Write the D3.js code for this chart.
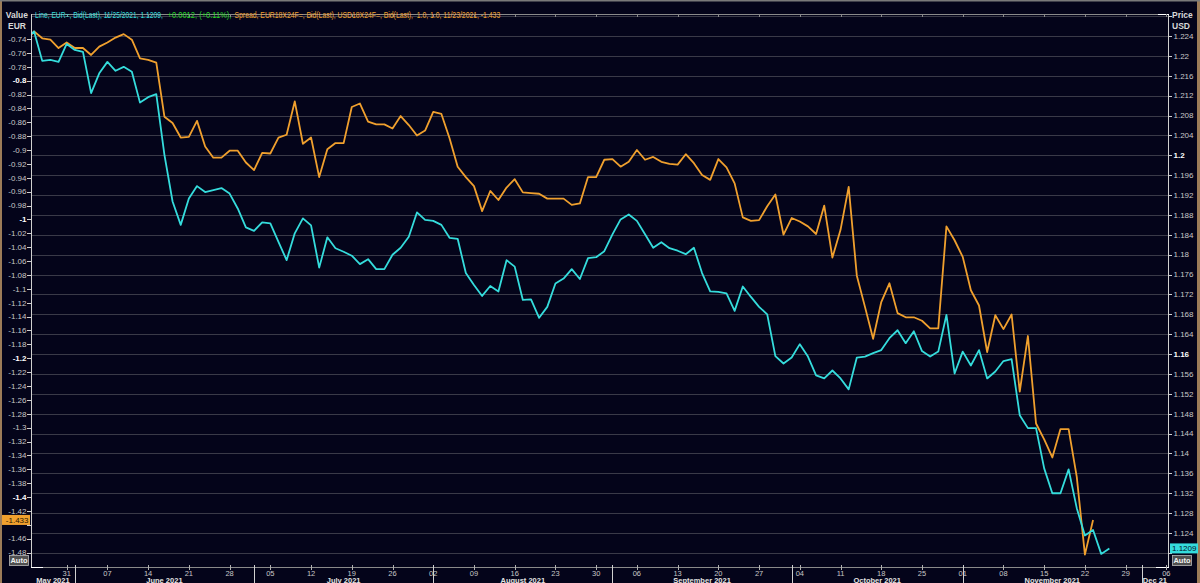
<!DOCTYPE html>
<html><head><meta charset="utf-8">
<script src="https://cdn.jsdelivr.net/npm/d3@7"></script>
<style>
html,body{margin:0;padding:0;background:#04041a;}
svg{display:block;}
text{font-family:"Liberation Sans",Arial,sans-serif;}
</style></head><body>
<svg id="chart" width="1200" height="583"></svg>
<script>
// ---- data (one value per weekday starting Mon 24 May 2021) ----
const firstDate = "2021-05-24";
const eurusd = [
 1.2235, 1.2249, 1.2190, 1.2192, 1.2188,
 1.2224, 1.2212, 1.2208, 1.2125, 1.2165, 1.2188, 1.2170, 1.2178, 1.2168, 1.2106,
 1.2117, 1.2123, 1.2001, 1.1907, 1.1860, 1.1913, 1.1938, 1.1926, 1.1930, 1.1934,
 1.1923, 1.1893, 1.1855, 1.1848, 1.1865, 1.1863, 1.1826, 1.1789, 1.1843, 1.1873,
 1.1859, 1.1774, 1.1835, 1.1813, 1.1806, 1.1798, 1.1781, 1.1791, 1.1771, 1.1771,
 1.1800, 1.1814, 1.1836, 1.1885, 1.1870, 1.1868, 1.1860, 1.1834, 1.1832, 1.1763,
 1.1739, 1.1717, 1.1737, 1.1726, 1.1789, 1.1776, 1.1709, 1.1710, 1.1673, 1.1695,
 1.1742, 1.1752, 1.1771, 1.1751, 1.1793, 1.1795, 1.1807, 1.1841, 1.1871, 1.1881,
 1.1868, 1.1841, 1.1814, 1.1825, 1.1813, 1.1808, 1.1801, 1.1814, 1.1763, 1.1726,
 1.1725, 1.1722, 1.1687, 1.1736, 1.1715, 1.1695, 1.1680, 1.1596, 1.1581, 1.1593,
 1.1620, 1.1595, 1.1557, 1.1551, 1.1567, 1.1551, 1.1529, 1.1593, 1.1595, 1.1602,
 1.1608, 1.1632, 1.1648, 1.1622, 1.1646, 1.1606, 1.1595, 1.1605, 1.1679, 1.1561,
 1.1605, 1.1577, 1.1608, 1.1551, 1.1565, 1.1586, 1.1590, 1.1477, 1.1451, 1.1451,
 1.1370, 1.1320, 1.1320, 1.1368, 1.1290, 1.1235, 1.1246, 1.1198, 1.1209
];
const spread = [
 -0.743, -0.729, -0.739, -0.741, -0.753,
 -0.745, -0.753, -0.753, -0.763, -0.751, -0.745, -0.738, -0.733, -0.741, -0.768,
 -0.770, -0.774, -0.852, -0.861, -0.882, -0.881, -0.858, -0.895, -0.911, -0.911,
 -0.901, -0.901, -0.918, -0.929, -0.904, -0.905, -0.882, -0.878, -0.830, -0.891,
 -0.882, -0.939, -0.899, -0.890, -0.890, -0.838, -0.833, -0.859, -0.863, -0.863,
 -0.869, -0.851, -0.864, -0.879, -0.872, -0.845, -0.848, -0.883, -0.924, -0.939,
 -0.952, -0.988, -0.959, -0.972, -0.954, -0.942, -0.961, -0.962, -0.963, -0.970,
 -0.970, -0.970, -0.979, -0.977, -0.939, -0.939, -0.914, -0.913, -0.924, -0.917,
 -0.900, -0.914, -0.910, -0.917, -0.920, -0.921, -0.906, -0.919, -0.936, -0.943,
 -0.913, -0.925, -0.948, -0.997, -1.002, -1.001, -0.981, -0.964, -1.022, -0.998,
 -1.003, -1.010, -1.021, -0.980, -1.055, -1.015, -0.953, -1.081, -1.126, -1.172,
 -1.119, -1.092, -1.135, -1.141, -1.141, -1.146, -1.157, -1.157, -1.010, -1.030,
 -1.054, -1.102, -1.124, -1.191, -1.138, -1.158, -1.137, -1.248, -1.168, -1.294,
 -1.317, -1.343, -1.302, -1.302, -1.371, -1.483, -1.433
];
const leftTickLabels = ["-0.74","-0.76","-0.78","-0.8","-0.82","-0.84","-0.86","-0.88","-0.9","-0.92",
 "-0.94","-0.96","-0.98","-1","-1.02","-1.04","-1.06","-1.08","-1.1","-1.12","-1.14","-1.16","-1.18",
 "-1.2","-1.22","-1.24","-1.26","-1.28","-1.3","-1.32","-1.34","-1.36","-1.38","-1.4","-1.42","-1.44",
 "-1.46","-1.48"];
const rightTickLabels = ["1.228","1.224","1.22","1.216","1.212","1.208","1.204","1.2","1.196","1.192","1.188",
 "1.184","1.18","1.176","1.172","1.168","1.164","1.16","1.156","1.152","1.148","1.144","1.14",
 "1.136","1.132","1.128","1.124","1.12"];
const monthLabels = ["May 2021","June 2021","July 2021","August 2021","September 2021","October 2021","November 2021","Dec 21"];
const legendCyan = "Line, EUR=, Bid(Last), 11/25/2021, 1.1209,";
const legendGreen = "+0.0012, (+0.11%),";
const legendOrange = "Spread, EUR18X24F=, Bid(Last), USD18X24F=, Bid(Last),  1.0, 1.0, 11/23/2021, -1.433";
const lastEur = "1.1209", lastSpread = "-1.433";

// ---- layout ----
const W = 1200, H = 583;
const L = 31, R = 1168, T = 14, B = 567;
const C = {bg:"#04041a", grid:"#3a3a48", axis:"#d0d0d0", tick:"#c8c8c8",
           orange:"#f0a02e", cyan:"#35dcdc", green:"#22d822"};

// weekday calendar
const days = [];
{
  const d = new Date(firstDate + "T00:00:00");
  while (days.length < 142) {
    if (d.getDay() !== 0 && d.getDay() !== 6) days.push(new Date(d));
    d.setDate(d.getDate() + 1);
  }
}

const x = d3.scaleLinear().domain([0.62, 140.2]).range([L, R]);
const yL = d3.scaleLinear().domain([-1.5008, -0.704]).range([B, T]);
const yR = d3.scaleLinear().domain([1.11716, 1.22843]).range([B, T]);

const svg = d3.select("#chart");
svg.append("rect").attr("width", W).attr("height", H).attr("fill", C.bg);
// outer frame
svg.append("rect").attr("x",0).attr("y",0).attr("width",2).attr("height",H).attr("fill","#9c7c58");
svg.append("rect").attr("x",W-3).attr("y",0).attr("width",3).attr("height",H).attr("fill","#9c7c58");
svg.append("rect").attr("x",0).attr("y",0).attr("width",W).attr("height",1.5).attr("fill","#7a7a7a");

// gridlines (at right axis ticks)
svg.append("g").selectAll("line").data(rightTickLabels).join("line")
  .attr("x1", L).attr("x2", R)
  .attr("y1", d => Math.round(yR(+d)) + 0.5).attr("y2", d => Math.round(yR(+d)) + 0.5)
  .attr("stroke", C.grid).attr("stroke-width", 1);

// clip
svg.append("clipPath").attr("id","clip").append("rect")
  .attr("x", L).attr("y", T).attr("width", R - L).attr("height", B - T);

const lineL = d3.line().x((d,i) => x(i)).y(d => yL(d));
const lineR = d3.line().x((d,i) => x(i)).y(d => yR(d));
const plot = svg.append("g").attr("clip-path","url(#clip)");
plot.append("path").datum(spread).attr("d", lineL)
  .attr("fill","none").attr("stroke", C.orange).attr("stroke-width", 1.8).attr("stroke-linejoin","round");
plot.append("path").datum(eurusd).attr("d", lineR)
  .attr("fill","none").attr("stroke", C.cyan).attr("stroke-width", 1.8).attr("stroke-linejoin","round");

// frame lines
svg.append("line").attr("x1",L).attr("x2",R).attr("y1",T+0.5).attr("y2",T+0.5).attr("stroke","#8a8a8a");
svg.append("line").attr("x1",L).attr("x2",R).attr("y1",B+0.5).attr("y2",B+0.5).attr("stroke","#8a8a8a");
svg.append("line").attr("x1",L+0.5).attr("x2",L+0.5).attr("y1",T).attr("y2",B+1).attr("stroke",C.axis);
svg.append("line").attr("x1",R+0.5).attr("x2",R+0.5).attr("y1",T).attr("y2",B+1).attr("stroke",C.axis);
svg.append("line").attr("x1",R-10).attr("x2",R+1).attr("y1",T+0.5).attr("y2",T+0.5).attr("stroke","#ffffff");
svg.append("line").attr("x1",L).attr("x2",L+12).attr("y1",B+0.5).attr("y2",B+0.5).attr("stroke","#ffffff");
svg.append("line").attr("x1",R-12).attr("x2",R+1).attr("y1",B+0.5).attr("y2",B+0.5).attr("stroke","#ffffff");

const lastL = spread[spread.length-1], lastR = eurusd[eurusd.length-1];

// left axis
const isBoldL = v => Math.abs(v*5 - Math.round(v*5)) < 1e-6;
const gl = svg.append("g");
gl.selectAll("line").data(leftTickLabels).join("line")
  .attr("x1", L-4).attr("x2", L)
  .attr("y1", d => Math.round(yL(+d))+0.5).attr("y2", d => Math.round(yL(+d))+0.5)
  .attr("stroke", C.axis);
gl.selectAll("text").data(leftTickLabels.filter(t => Math.abs(yL(+t) - yL(lastL)) > 8)).join("text")
  .attr("x", L-4.5).attr("y", d => yL(+d)).attr("dy","0.35em")
  .attr("text-anchor","end").attr("font-size", 8)
  .attr("font-weight", d => isBoldL(+d) ? "bold" : "normal")
  .attr("fill", d => isBoldL(+d) ? "#ffffff" : C.tick).text(d => d);

// right axis
const isBoldR = v => Math.abs(v*25 - Math.round(v*25)) < 1e-6;
const gr = svg.append("g");
gr.selectAll("line").data(rightTickLabels).join("line")
  .attr("x1", R).attr("x2", R+4)
  .attr("y1", d => Math.round(yR(+d))+0.5).attr("y2", d => Math.round(yR(+d))+0.5)
  .attr("stroke", C.axis);
gr.selectAll("text").data(rightTickLabels.filter(t => yR(+t) > 30 && Math.abs(yR(+t) - yR(lastR)) > 8)).join("text")
  .attr("x", R+5.5).attr("y", d => yR(+d)).attr("dy","0.35em")
  .attr("text-anchor","start").attr("font-size", 8)
  .attr("font-weight", d => isBoldR(+d) ? "bold" : "normal")
  .attr("fill", d => isBoldR(+d) ? "#ffffff" : C.tick).text(d => d);

// axis titles
const title = (tx, ty, s, anchor) => svg.append("text").attr("x",tx).attr("y",ty)
  .attr("font-size",8.5).attr("font-weight","bold").attr("fill","#d8d8d8")
  .attr("text-anchor",anchor).text(s);
title(28, 18, "Value", "end");
title(26, 29, "EUR", "end");
title(1172, 18, "Price", "start");
title(1172, 29, "USD", "start");

// x axis: weekly ticks (Mondays) and month separators
const idx = d3.range(days.length);
const inDom = i => x(i) >= L - 0.5 && x(i) <= R + 0.5;
const mondays = idx.filter(i => days[i].getDay() === 1 && inDom(i));
const fmtDay = d3.timeFormat("%d");
const gx = svg.append("g");
gx.selectAll("line.wk").data(mondays).join("line").attr("class","wk")
  .attr("x1", i => Math.round(x(i))+0.5).attr("x2", i => Math.round(x(i))+0.5)
  .attr("y1", B-2).attr("y2", B+3).attr("stroke", "#b0b0b0");
gx.selectAll("line.wkt").data(mondays).join("line").attr("class","wkt")
  .attr("x1", i => Math.round(x(i))+0.5).attr("x2", i => Math.round(x(i))+0.5)
  .attr("y1", T).attr("y2", T+3).attr("stroke", "#8a8a8a");
gx.selectAll("text.wk").data(mondays).join("text").attr("class","wk")
  .attr("x", i => x(i)).attr("y", B+8.5).attr("text-anchor","middle")
  .attr("font-size", 7.5).attr("fill", C.tick).text(i => fmtDay(days[i]));

const monthStarts = idx.filter(i => i > 0 && days[i].getMonth() !== days[i-1].getMonth() && x(i) <= R);
gx.selectAll("line.mo").data(monthStarts).join("line").attr("class","mo")
  .attr("x1", i => Math.round(x(i))+0.5).attr("x2", i => Math.round(x(i))+0.5)
  .attr("y1", B-2).attr("y2", H).attr("stroke", "#d0d0d0");
const bounds = [L, ...monthStarts.map(i => x(i)), R];
gx.selectAll("text.mo").data(monthLabels).join("text").attr("class","mo")
  .attr("x", (d,k) => (bounds[k] + bounds[k+1]) / 2).attr("y", B+15.5)
  .attr("text-anchor","middle").attr("font-size", 7.5).attr("font-weight","bold")
  .attr("fill", "#e4e4e4").text(d => d);

// last value boxes
svg.append("rect").attr("x",2).attr("y", yL(lastL)-5).attr("width",L-3).attr("height",10).attr("fill", C.orange);
svg.append("text").attr("x", L-2.5).attr("y", yL(lastL)).attr("dy","0.35em").attr("text-anchor","end")
  .attr("font-size",8).attr("fill","#2a1800").text(lastSpread);
svg.append("rect").attr("x",R+2).attr("y", yR(lastR)-5).attr("width",28).attr("height",10).attr("fill", C.cyan);
svg.append("text").attr("x", R+4).attr("y", yR(lastR)).attr("dy","0.35em").attr("text-anchor","start")
  .attr("font-size",8).attr("fill","#04102a").text(lastEur);

// Auto boxes
const auto = (ax, ay) => {
  svg.append("rect").attr("x",ax).attr("y",ay).attr("width",19).attr("height",10)
    .attr("fill","#505050").attr("stroke","#b8b8b8").attr("stroke-width",0.8);
  svg.append("text").attr("x",ax+9.5).attr("y",ay+7.6).attr("text-anchor","middle")
    .attr("font-size",7.5).attr("font-weight","bold").attr("fill","#f0f0f0").text("Auto");
};
auto(9.5, 555.5);
auto(1172.5, 555.5);

// legend: each segment scaled horizontally to the reference width
const leg = (tx, w, s, col) => {
  const t = svg.append("text").attr("x",0).attr("y",0)
    .attr("font-size",9).attr("fill",col).style("white-space","pre").text(s);
  const nat = t.node().getComputedTextLength();
  t.attr("transform", `translate(${tx},18) scale(${w/nat},1)`);
};
leg(35, 128, legendCyan, C.cyan);
leg(167.5, 64, legendGreen, C.green);
leg(234.5, 266, legendOrange, C.orange);
</script>
</body></html>
